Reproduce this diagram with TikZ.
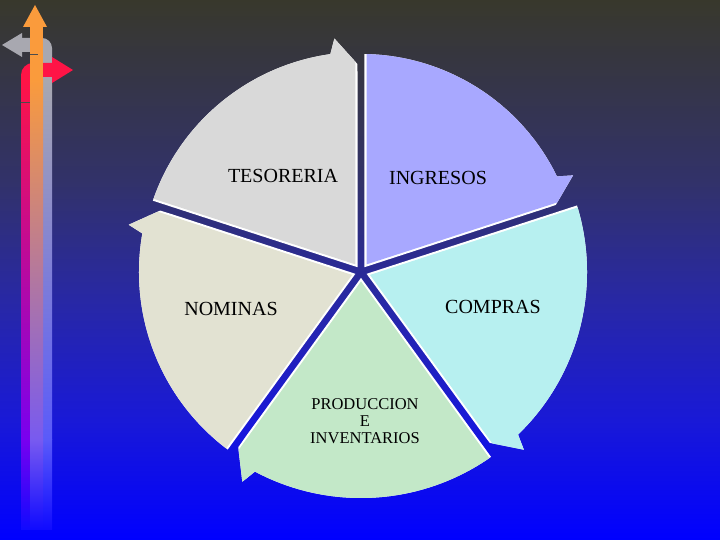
\documentclass[tikz,border=0pt]{standalone}
\usepackage{fontspec}
\setmainfont{Liberation Serif}
\definecolor{bgA}{RGB}{0,0,255}
\definecolor{bgB}{RGB}{25,25,215}
\definecolor{bgC}{RGB}{40,40,165}
\definecolor{bgD}{RGB}{50,50,105}
\definecolor{bgE}{RGB}{56,56,44}
\pgfdeclareverticalshading{bgshade}{100bp}{color(0bp)=(bgA); color(25bp)=(bgA); color(36.11bp)=(bgB); color(47.22bp)=(bgC); color(58.33bp)=(bgD); color(75bp)=(bgE); color(100bp)=(bgE)}
\definecolor{segGray}{RGB}{217,217,217}
\definecolor{segLav}{RGB}{168,168,255}
\definecolor{segCyan}{RGB}{183,240,240}
\definecolor{segGreen}{RGB}{195,232,200}
\definecolor{segBeige}{RGB}{226,226,210}
\definecolor{arGray}{RGB}{168,168,176}
\definecolor{arGrayM}{RGB}{128,128,195}
\definecolor{arGrayL}{RGB}{90,90,250}
\definecolor{arRed}{RGB}{255,20,70}
\definecolor{arRedM}{RGB}{230,0,140}
\definecolor{arRedL}{RGB}{120,0,240}
\definecolor{arOr}{RGB}{250,155,60}
\definecolor{arOrM}{RGB}{210,125,160}
\definecolor{arOrL}{RGB}{120,90,240}
\definecolor{arEnd}{RGB}{15,10,255}
\newcommand\segpath[2]{(C) -- ([shift={(C)}]#1:#2pt) arc[start angle=#1, end angle=\segA, radius=#2pt] -- ([shift={(C)}]\segS:\segRo pt) -- ([shift={(C)}]\segB:\segRi pt) -- cycle}
\newcommand\cycleseg[3]{%
  \pgfmathsetmacro\segE{#1-72}%
  \pgfmathsetmacro\segM{#1-36}%
  \pgfmathsetmacro\segA{#1-64}%
  \pgfmathsetmacro\segS{#1-65.5}%
  \pgfmathsetmacro\segB{#1-71}%
  \pgfmathsetmacro\segRo{#2+15}%
  \pgfmathsetmacro\segRi{#2-12}%
  \begin{scope}
    \coordinate (ap) at ([shift={(C)}]\segM:5.9pt);
    \clip (ap) -- ([shift={(ap)}]#1:340pt) -- ([shift={(C)}]\segM:460pt) -- ([shift={(ap)}]\segE:340pt) -- cycle;
    \fill[white] \segpath{#1}{#2};
  \end{scope}
  \begin{scope}
    \coordinate (ap) at ([shift={(C)}]\segM:9.4pt);
    \clip (ap) -- ([shift={(ap)}]#1:340pt) -- ([shift={(C)}]\segM:460pt) -- ([shift={(ap)}]\segE:340pt) -- cycle;
    \fill[#3] \segpath{#1}{#2};
  \end{scope}}
\tikzset{
  biglabel/.style={font=\fontsize{20}{22}\selectfont, inner sep=0pt},
  smalllabel/.style={font=\fontsize{16.5}{17}\selectfont, inner sep=0pt, align=center},
}
\begin{document}
\begin{tikzpicture}[x=1pt,y=1pt]
\useasboundingbox (0,0) rectangle (720,540);
\shade[shading=bgshade] (0,0) rectangle (720,540);

% decorative arrows at the left
\shade[top color=arGrayL, bottom color=arEnd] (42,10) rectangle (52,100.5);
\shade[top color=arGray, middle color=arGrayM, bottom color=arGrayL] (42,100) rectangle (52,460);
\fill[arGray] (22,502) -- (42,502) arc[start angle=90, end angle=0, radius=10pt] -- (52,459) -- (42,459) -- (42,488) -- (22,488) -- cycle;
\fill[arGray] (2,495) -- (22,507) -- (22,483) -- cycle;

\shade[top color=arRedL, bottom color=arEnd] (21,10) rectangle (30,100.5);
\shade[top color=arRed, middle color=arRedM, bottom color=arRedL] (21,100) rectangle (30,460);
\fill[arRed] (21,459) -- (21,465) arc[start angle=180, end angle=90, radius=12pt] -- (52,477) -- (52,463) -- (30,463) -- (30,459) -- cycle;
\fill[arRed] (52,483) -- (73,470) -- (52,457) -- cycle;
\draw[black!70, line width=0.6pt] (21,438) -- (30,438);

\shade[top color=arOrL, bottom color=arEnd] (30,10) rectangle (43,100.5);
\shade[top color=arOr, middle color=arOrM, bottom color=arOrL] (30,100) rectangle (43,460);
\fill[arOr] (30,459) rectangle (43,513);
\fill[arOr] (23,513) -- (35,535) -- (47,513) -- cycle;
\draw[black!70, line width=0.6pt] (30,486) -- (38,486);

% cycle diagram
\coordinate (C) at (361,268);
\cycleseg{162}{220}{segGray}
\cycleseg{90}{218}{segLav}
\cycleseg{18}{226}{segCyan}
\cycleseg{-54}{226}{segGreen}
\cycleseg{-126}{222}{segBeige}

\node[biglabel] (tes) at (283,364) {TESORERIA};
\node[biglabel] (ing) at (438,362) {INGRESOS};
\node[biglabel] (com) at (493,233) {COMPRAS};
\node[biglabel] (nom) at (231,231) {NOMINAS};
\node[smalllabel] (pro) at (365,119) {PRODUCCION\\E\\INVENTARIOS};
\end{tikzpicture}
\end{document}
